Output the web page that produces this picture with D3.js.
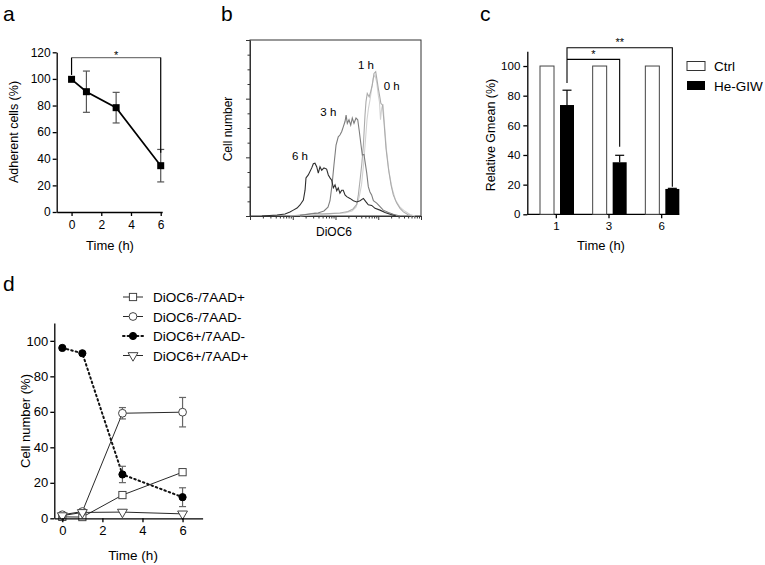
<!DOCTYPE html>
<html><head><meta charset="utf-8">
<script src="https://cdn.jsdelivr.net/npm/d3@7"></script>
<style>body{margin:0;background:#fff}svg{display:block}</style>
</head><body><svg id="chart" width="765" height="565"></svg>
<script>
// ---------- Panel a data ----------
const aTimes = [0, 1, 3, 6];
const aMeans = [99.7, 90.4, 78.4, 34.8];
const aErrs = [0, 15.5, 11.5, 12.2];
const aYTicks = [0, 20, 40, 60, 80, 100, 120];
const aXTicks = [0, 2, 4, 6];

// ---------- Panel b data (DiOC6 intensity, cell count) ----------
const hist0h = [[14.8,0],[33,2.5],[74,4],[167,5],[243,8.5],[302,15],[355,31],[406,53],[452,87],[503,130],[546,164],[592,184],[641,198],[703,218],[766,235],[840,240],[920,228],[1003,206],[1069,194],[1129,164],[1204,184],[1292,191],[1400,155],[1560,112],[1784,75],[2097,48],[2532,27],[3228,15],[4224,8],[5530,2.5],[7237,0]];
const hist1h = [[8.6,0],[19.4,2.5],[33,5],[48,3.4],[74,4],[127,5],[196,7.7],[257,12],[314,20],[342,36],[375,61],[410,87],[449,121],[490,172],[517,195],[553,209],[613,203],[665,212],[724,223],[795,243],[872,246],[935,232],[1000,218],[1100,201],[1150,192],[1260,189],[1360,161],[1520,115],[1730,81],[1990,53],[2250,36],[2700,22],[3230,13],[3870,7],[4990,2],[6150,0]];
const hist3h = [[14.8,1],[25.4,3.4],[38.9,5],[53.7,8.5],[66.7,15],[74.4,26],[83,53],[92,87],[103,121],[116,135],[127,138],[140,144],[152,152],[167,161],[177,172],[189,158],[207,164],[227,155],[247,167],[271,158],[302,167],[331,164],[361,144],[395,121],[424,104],[464,105],[490,93],[538,73],[585,50],[640,41],[700,36],[770,26],[920,22],[1100,16],[1310,10],[1730,6],[2250,3],[3200,0]];
const hist6h = [[1.9,0],[4.3,1.7],[6.6,3.4],[8.6,6.8],[10.3,10],[12.6,13.6],[14.8,18.8],[17.7,27],[19.4,44],[20.4,65],[23.1,70],[27.8,82],[30.3,89],[33.1,90],[36.3,84],[39.6,73],[43.4,84],[47.6,78],[53.7,82],[62,80],[67.9,70],[74.4,65],[81.4,61],[89,48],[97.5,53],[107,43],[116,48],[127,39],[140,44],[152,44],[167,36],[183,33],[218,30],[262,26],[314,24],[375,26],[449,30],[517,24],[585,19],[703,18],[840,13],[1100,10],[1440,6],[1890,3],[2600,0]];
const bLabels = ["0 h", "1 h", "3 h", "6 h"];
const bLabelPos = [[2064, 222], [517, 257], [68, 178], [14.8, 102]];
const bYMajor = [0, 100, 200, 300];

// ---------- Panel c data ----------
const cGroups = ["1", "3", "6"];
const cSeries = ["Ctrl", "He-GIW"];
const cCtrl = [100, 100, 100];
const cHe = [73.7, 35.1, 17.1];
const cHeErr = [10, 4.7, 0.4];
const cYTicks = [0, 20, 40, 60, 80, 100];

// ---------- Panel d data ----------
const dTimes = [0, 1, 3, 6];
const dNames = ["DiOC6-/7AAD+", "DiOC6-/7AAD-", "DiOC6+/7AAD-", "DiOC6+/7AAD+"];
const dNegPos = [0.8, 0.7, 13.1, 26];
const dNegPosErr = [0, 0, 0, 0];
const dNegNeg = [2, 3.8, 59.2, 59.8];
const dNegNegErr = [0, 0, 3.2, 8.3];
const dPosNeg = [96, 93, 24.7, 11.9];
const dPosNegErr = [0, 0, 4.6, 5.3];
const dPosPos = [1.5, 3.3, 3.5, 2.5];
const dPosPosErr = [0, 0, 0, 0];
const dYTicks = [0, 20, 40, 60, 80, 100];
const dXTicks = [0, 2, 4, 6];

// ---------- helpers ----------
const FONT = "'Liberation Sans', Arial, Helvetica, sans-serif";
const svg = d3.select("#chart").attr("font-family", FONT);

function styleAxis(g, fs, col = "#000", w = 1.3) {
  g.attr("font-family", FONT).attr("font-size", fs);
  g.select(".domain").attr("stroke", col).attr("stroke-width", w);
  g.selectAll(".tick line").attr("stroke", col).attr("stroke-width", w);
  g.selectAll(".tick text").attr("fill", "#000");
}
function text(x, y, s, fs, opts = {}) {
  const t = svg.append("text").attr("x", x).attr("y", y).text(s)
    .attr("font-size", fs).attr("fill", "#000")
    .attr("text-anchor", opts.anchor || "middle");
  if (opts.rotate) t.attr("transform", `rotate(-90,${x},${y})`);
  if (opts.weight) t.attr("font-weight", opts.weight);
  return t;
}

// panel labels
text(3, 21, "a", 21, {anchor: "start"});
text(221, 21, "b", 21, {anchor: "start"});
text(480, 21, "c", 21, {anchor: "start"});
text(3, 291, "d", 21, {anchor: "start"});

// ================= Panel a =================
{
  const x = d3.scaleLinear().domain([-1, 6.1]).range([56.7, 162.2]);
  const y = d3.scaleLinear().domain([0, 120]).range([212, 52.3]);
  styleAxis(svg.append("g").attr("transform", "translate(56.7,0)")
    .call(d3.axisLeft(y).tickValues(aYTicks).tickSize(4).tickPadding(2).tickSizeOuter(0)), 12);
  styleAxis(svg.append("g").attr("transform", "translate(0,212)")
    .call(d3.axisBottom(x).tickValues(aXTicks).tickSize(4).tickPadding(4).tickSizeOuter(0)), 12);
  const pts = aTimes.map((t, i) => ({t, m: aMeans[i], e: aErrs[i]}));
  // error bars
  const eb = svg.append("g").attr("stroke", "#555").attr("stroke-width", 1.2);
  pts.filter(d => d.e > 0).forEach(d => {
    eb.append("line").attr("x1", x(d.t)).attr("x2", x(d.t)).attr("y1", y(d.m - d.e)).attr("y2", y(d.m + d.e));
    [d.m - d.e, d.m + d.e].forEach(v => eb.append("line").attr("x1", x(d.t) - 3.5).attr("x2", x(d.t) + 3.5).attr("y1", y(v)).attr("y2", y(v)));
  });
  svg.append("path").datum(pts).attr("fill", "none").attr("stroke", "#000").attr("stroke-width", 1.7)
    .attr("d", d3.line().x(d => x(d.t)).y(d => y(d.m)));
  svg.append("g").selectAll("rect").data(pts).join("rect")
    .attr("x", d => x(d.t) - 3.5).attr("y", d => y(d.m) - 3.5).attr("width", 7).attr("height", 7).attr("fill", "#000");
  // significance bracket
  svg.append("line").attr("x1", x(0)).attr("x2", x(6)).attr("y1", y(116)).attr("y2", y(116)).attr("stroke", "#777").attr("stroke-width", 1.3);
  svg.append("line").attr("x1", x(0)).attr("x2", x(0)).attr("y1", y(116)).attr("y2", y(103)).attr("stroke", "#000").attr("stroke-width", 1.2);
  svg.append("line").attr("x1", x(6)).attr("x2", x(6)).attr("y1", y(116)).attr("y2", y(44.5)).attr("stroke", "#000").attr("stroke-width", 1.2);
  text((x(0) + x(6)) / 2, y(116) + 1, "*", 11);
  text(110, 250, "Time (h)", 13);
  text(18, 132, "Adherent cells (%)", 12.5, {rotate: true});
}

// ================= Panel b =================
{
  const x = d3.scaleLog().domain([1, 10000]).range([250, 421]);
  const y = d3.scaleLinear().domain([0, 300]).range([216, 40]);
  const col = "#333";
  // frame
  svg.append("rect").attr("x", 250).attr("y", y(300)).attr("width", x(10000) - 250).attr("height", y(0) - y(300))
    .attr("fill", "none").attr("stroke", col).attr("stroke-width", 1);
  const minorY = d3.range(0, 301, 25);
  const gy = svg.append("g").attr("transform", "translate(250,0)")
    .call(d3.axisLeft(y).tickValues(minorY).tickSize(3).tickFormat("").tickSizeOuter(0));
  styleAxis(gy, 10, col, 1);
  gy.selectAll(".tick line").attr("x2", d => bYMajor.includes(d) ? -4 : -2.5);
  const gx = svg.append("g").attr("transform", "translate(0,216)")
    .call(d3.axisBottom(x).ticks(40).tickSize(3).tickFormat("").tickSizeOuter(0));
  styleAxis(gx, 10, col, 1);
  gx.selectAll(".tick line").attr("y2", d => Math.abs(Math.log10(d) - Math.round(Math.log10(d))) < 1e-6 ? 4 : 2.5);
  const line = d3.line().x(d => x(d[0])).y(d => y(d[1]));
  const series = [[hist0h, "#d2d2d2"], [hist1h, "#ababab"], [hist3h, "#7d7d7d"], [hist6h, "#2e2e2e"]];
  series.forEach(([h, c]) => svg.append("path").datum(h).attr("fill", "none").attr("stroke", c).attr("stroke-width", 1.1).attr("d", line));
  bLabels.forEach((s, i) => text(x(bLabelPos[i][0]), y(bLabelPos[i][1]) + 4, s, 11.5));
  text(334, 236, "DiOC6", 12);
  text(232, 129, "Cell number", 12, {rotate: true});
}

// ================= Panel c =================
{
  const x0 = d3.scaleBand().domain(cGroups).range([530, 688]);
  const x1 = d3.scaleBand().domain(cSeries).range([10, 44]).paddingInner(0.3).paddingOuter(0);
  const y = d3.scaleLinear().domain([0, 110]).range([214.3, 51.2]);
  styleAxis(svg.append("g").attr("transform", "translate(527.3,0)")
    .call(d3.axisLeft(y).tickValues(cYTicks).tickSize(4).tickPadding(3).tickSizeOuter(0)), 11.5);
  const gx = svg.append("g").attr("transform", "translate(0,214.3)")
    .call(d3.axisBottom(x0).tickSize(4).tickPadding(4).tickSizeOuter(0));
  styleAxis(gx, 11.5);
  gx.select(".domain").attr("d", `M527.3,0H${x0("6") + x1("He-GIW") + x1.bandwidth()}`);
  const rows = cGroups.map((g, i) => ({g, ctrl: cCtrl[i], he: cHe[i], e: cHeErr[i]}));
  // error bars (upper only)
  rows.forEach(d => {
    const cx = x0(d.g) + x1("He-GIW") + x1.bandwidth() / 2;
    svg.append("line").attr("x1", cx).attr("x2", cx).attr("y1", y(d.he)).attr("y2", y(d.he + d.e)).attr("stroke", "#000").attr("stroke-width", 1.2);
    svg.append("line").attr("x1", cx - 4.5).attr("x2", cx + 4.5).attr("y1", y(d.he + d.e)).attr("y2", y(d.he + d.e)).attr("stroke", "#000").attr("stroke-width", 1.2);
  });
  svg.append("g").selectAll("rect").data(rows).join("rect")
    .attr("x", d => x0(d.g) + x1("Ctrl")).attr("width", x1.bandwidth())
    .attr("y", d => y(d.ctrl)).attr("height", d => y(0) - y(d.ctrl))
    .attr("fill", "#fff").attr("stroke", "#444").attr("stroke-width", 1);
  svg.append("g").selectAll("rect").data(rows).join("rect")
    .attr("x", d => x0(d.g) + x1("He-GIW")).attr("width", x1.bandwidth())
    .attr("y", d => y(d.he)).attr("height", d => y(0) - y(d.he))
    .attr("fill", "#000");
  // brackets
  const hc = g => x0(g) + x1("He-GIW") + x1.bandwidth() / 2;
  const br = svg.append("g").attr("stroke", "#000").attr("stroke-width", 1.1).attr("fill", "none");
  br.append("path").attr("d", `M${hc("1")},${y(88.5)}V${y(112.3)}H${hc("6")}V${y(18.6)}`);
  br.append("path").attr("d", `M${hc("1")},${y(104.5)}H${hc("3")}V${y(45.6)}`);
  text((hc("1") + hc("6")) / 2, y(112.3) - 2, "**", 11);
  text((hc("1") + hc("3")) / 2, y(104.5) - 1, "*", 11);
  // legend
  svg.append("rect").attr("x", 687).attr("y", 61.5).attr("width", 18).attr("height", 9).attr("fill", "#fff").attr("stroke", "#333").attr("stroke-width", 1);
  svg.append("rect").attr("x", 687).attr("y", 81).attr("width", 18).attr("height", 9).attr("fill", "#000");
  text(714, 71, cSeries[0], 13.5, {anchor: "start"});
  text(714, 90.5, cSeries[1], 13.5, {anchor: "start"});
  text(601, 250, "Time (h)", 13);
  text(495, 135, "Relative Gmean (%)", 12.5, {rotate: true});
}

// ================= Panel d =================
{
  const x = d3.scaleLinear().domain([-0.4, 7]).range([54.3, 202.6]);
  const y = d3.scaleLinear().domain([0, 110]).range([518.3, 323.1]);
  const defs = [
    {name: dNames[0], v: dNegPos, e: dNegPosErr, sym: "square", fill: "#fff", dash: null, lw: 0.9},
    {name: dNames[1], v: dNegNeg, e: dNegNegErr, sym: "circle", fill: "#fff", dash: null, lw: 0.9},
    {name: dNames[2], v: dPosNeg, e: dPosNegErr, sym: "circle", fill: "#000", dash: "1.6,3", lw: 2},
    {name: dNames[3], v: dPosPos, e: dPosPosErr, sym: "tri", fill: "#fff", dash: null, lw: 0.9},
  ];
  function marker(g, sym, fill, cx, cy) {
    if (sym === "square") g.append("rect").attr("x", cx - 3.6).attr("y", cy - 3.6).attr("width", 7.2).attr("height", 7.2).attr("fill", fill).attr("stroke", "#444").attr("stroke-width", 1);
    else if (sym === "circle") g.append("circle").attr("cx", cx).attr("cy", cy).attr("r", fill === "#000" ? 3.6 : 3.9).attr("fill", fill).attr("stroke", fill === "#000" ? "#000" : "#444").attr("stroke-width", 1);
    else g.append("path").attr("d", d3.symbol(d3.symbolTriangle, 42)()).attr("transform", `translate(${cx},${cy}) rotate(180)`).attr("fill", fill).attr("stroke", "#444").attr("stroke-width", 1);
  }
  const line = d3.line().x(d => x(d.t)).y(d => y(d.v));
  // lines
  defs.forEach(s => {
    const pts = dTimes.map((t, i) => ({t, v: s.v[i], e: s.e[i]}));
    const p = svg.append("path").datum(pts).attr("fill", "none").attr("stroke", "#111").attr("stroke-width", s.lw).attr("d", line);
    if (s.dash) p.attr("stroke-dasharray", s.dash).attr("stroke-linecap", "round");
    s.pts = pts;
  });
  // error bars
  defs.forEach(s => {
    s.pts.filter(d => d.e > 0).forEach(d => {
      const g = svg.append("g").attr("stroke", "#666").attr("stroke-width", 1.2);
      g.append("line").attr("x1", x(d.t)).attr("x2", x(d.t)).attr("y1", y(d.v - d.e)).attr("y2", y(d.v + d.e));
      [d.v - d.e, d.v + d.e].forEach(v => g.append("line").attr("x1", x(d.t) - 3.5).attr("x2", x(d.t) + 3.5).attr("y1", y(v)).attr("y2", y(v)));
    });
  });
  // markers
  defs.forEach(s => { const g = svg.append("g"); s.pts.forEach(d => marker(g, s.sym, s.fill, x(d.t), y(d.v))); });
  styleAxis(svg.append("g").attr("transform", "translate(54.3,0)")
    .call(d3.axisLeft(y).tickValues(dYTicks).tickSize(4).tickPadding(2).tickSizeOuter(0)), 13);
  styleAxis(svg.append("g").attr("transform", "translate(0,518.3)")
    .call(d3.axisBottom(x).tickValues(dXTicks).tickSize(4).tickPadding(3).tickSizeOuter(0)), 13);
  text(133, 560, "Time (h)", 13.5);
  text(30, 421, "Cell number (%)", 13, {rotate: true});
  // legend
  defs.forEach((s, i) => {
    const cy = 297 + i * 19.5;
    const g = svg.append("g");
    const l = g.append("line").attr("x1", 123).attr("x2", 143).attr("y1", cy).attr("y2", cy).attr("stroke", "#111").attr("stroke-width", s.lw);
    if (s.dash) l.attr("stroke-dasharray", "1.6,3").attr("stroke-linecap", "round");
    marker(g, s.sym, s.fill, 133, cy);
    text(153, cy + 5, s.name, 13.5, {anchor: "start"});
  });
}
</script></body></html>
